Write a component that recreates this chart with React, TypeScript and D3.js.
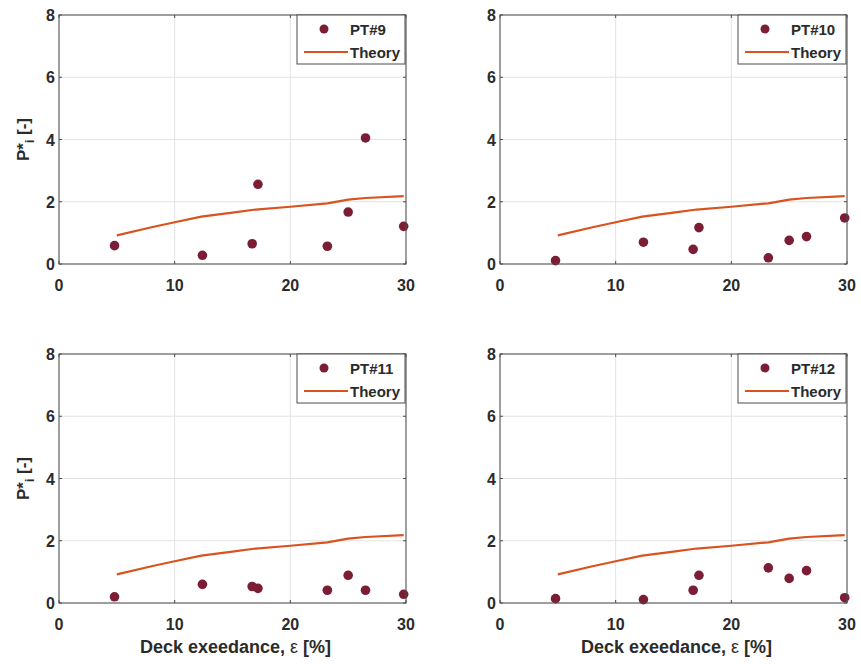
import React from "react";
import * as d3 from "d3";

const W = 861;
const H = 664;

const panelNames = ["PT#9", "PT#10", "PT#11", "PT#12"];
const exceedance = [4.8, 12.4, 16.7, 17.2, 23.2, 25.0, 26.5, 29.8];
const pt9 = [0.59, 0.28, 0.65, 2.56, 0.57, 1.67, 4.05, 1.21];
const pt10 = [0.11, 0.7, 0.47, 1.17, 0.2, 0.76, 0.88, 1.48];
const pt11 = [0.2, 0.6, 0.53, 0.47, 0.41, 0.89, 0.41, 0.28];
const pt12 = [0.14, 0.11, 0.41, 0.89, 1.13, 0.79, 1.04, 0.17];
const theoryX = [5, 8, 10, 12.3, 15, 17, 20, 23.2, 25, 26.5, 29.8];
const theoryY = [0.92, 1.18, 1.34, 1.52, 1.65, 1.75, 1.84, 1.95, 2.07, 2.12, 2.18];
const xTicks = [0, 10, 20, 30];
const yTicks = [0, 2, 4, 6, 8];

const seriesList = [pt9, pt10, pt11, pt12];

const panelPos = [
  { left: 59, top: 15, showY: true, showX: false },
  { left: 500, top: 15, showY: false, showX: false },
  { left: 59, top: 354, showY: true, showX: true },
  { left: 500, top: 354, showY: false, showX: true },
];
const PW = 347;
const PH = 249;

const FONT = "'Liberation Sans', Arial, sans-serif";
const MARKER = "#7b1d35";
const LINE = "#d9531e";
const AXIS = "#4d4d4d";
const TEXT = "#2b2b2b";

function Panel({ idx }: { idx: number }) {
  const p = panelPos[idx];
  const x = d3.scaleLinear().domain([0, 30]).range([p.left, p.left + PW]);
  const y = d3.scaleLinear().domain([0, 8]).range([p.top + PH, p.top]);
  const vals = seriesList[idx];
  const line = d3
    .line<number>()
    .x((_, i) => x(theoryX[i]))
    .y((d) => y(d));
  const lg = { x: p.left + PW - 109, y: p.top, w: 108, h: 49 };
  return (
    <g>
      <rect x={p.left} y={p.top} width={PW} height={PH} fill="#fff" />
      {xTicks.map((t) => (
        <line key={"gx" + t} x1={x(t)} x2={x(t)} y1={p.top} y2={p.top + PH} stroke="#e3e3e3" strokeWidth={1} />
      ))}
      {yTicks.map((t) => (
        <line key={"gy" + t} x1={p.left} x2={p.left + PW} y1={y(t)} y2={y(t)} stroke="#e3e3e3" strokeWidth={1} />
      ))}
      <path d={line(theoryY) || ""} fill="none" stroke={LINE} strokeWidth={2.2} />
      {vals.map((v, i) => (
        <circle key={i} cx={x(exceedance[i])} cy={y(v)} r={4.8} fill={MARKER} />
      ))}
      <rect x={p.left} y={p.top} width={PW} height={PH} fill="none" stroke={AXIS} strokeWidth={1} />
      {xTicks.map((t) => (
        <g key={"tx" + t}>
          <line x1={x(t)} x2={x(t)} y1={p.top + PH} y2={p.top + PH - 3} stroke={AXIS} />
          <line x1={x(t)} x2={x(t)} y1={p.top} y2={p.top + 3} stroke={AXIS} />
          <text x={x(t)} y={p.top + PH + 27} textAnchor="middle" fontSize={16} fontWeight="bold" fill={TEXT} fontFamily={FONT}>
            {t}
          </text>
        </g>
      ))}
      {yTicks.map((t) => (
        <g key={"ty" + t}>
          <line x1={p.left} x2={p.left + 3} y1={y(t)} y2={y(t)} stroke={AXIS} />
          <line x1={p.left + PW} x2={p.left + PW - 3} y1={y(t)} y2={y(t)} stroke={AXIS} />
          <text x={p.left - 4} y={y(t) + 6} textAnchor="end" fontSize={16} fontWeight="bold" fill={TEXT} fontFamily={FONT}>
            {t}
          </text>
        </g>
      ))}
      <rect x={lg.x} y={lg.y} width={lg.w} height={lg.h} fill="#fff" stroke={AXIS} strokeWidth={1} />
      <circle cx={lg.x + 27} cy={lg.y + 14} r={4.5} fill={MARKER} />
      <text x={lg.x + 53} y={lg.y + 20} fontSize={15} fontWeight="bold" fill={TEXT} fontFamily={FONT}>
        {panelNames[idx]}
      </text>
      <line x1={lg.x + 7} x2={lg.x + 51} y1={lg.y + 37} y2={lg.y + 37} stroke={LINE} strokeWidth={2.2} />
      <text x={lg.x + 53} y={lg.y + 43} fontSize={15} fontWeight="bold" fill={TEXT} fontFamily={FONT}>
        Theory
      </text>
      {p.showY && (
        <text
          transform={`translate(${p.left - 30},${p.top + PH / 2}) rotate(-90)`}
          textAnchor="middle"
          fontSize={17}
          fontWeight="bold"
          fill={TEXT}
          fontFamily={FONT}
        >
          P*<tspan dy={5} fontSize={12}>i</tspan>
          <tspan dy={-5}>{"  [-]"}</tspan>
        </text>
      )}
      {p.showX && (
        <text x={p.left + PW / 2 + 3} y={p.top + PH + 50} textAnchor="middle" fontSize={18} fontWeight="bold" fill={TEXT} fontFamily={FONT}>
          Deck exeedance, <tspan fontWeight="normal">ε</tspan> [%]
        </text>
      )}
    </g>
  );
}

export default function App() {
  return (
    <svg width={W} height={H} style={{ position: "absolute", left: 0, top: 0, background: "#fff" }}>
      <rect width={W} height={H} fill="#fff" />
      {[0, 1, 2, 3].map((i) => (
        <Panel key={i} idx={i} />
      ))}
    </svg>
  );
}
